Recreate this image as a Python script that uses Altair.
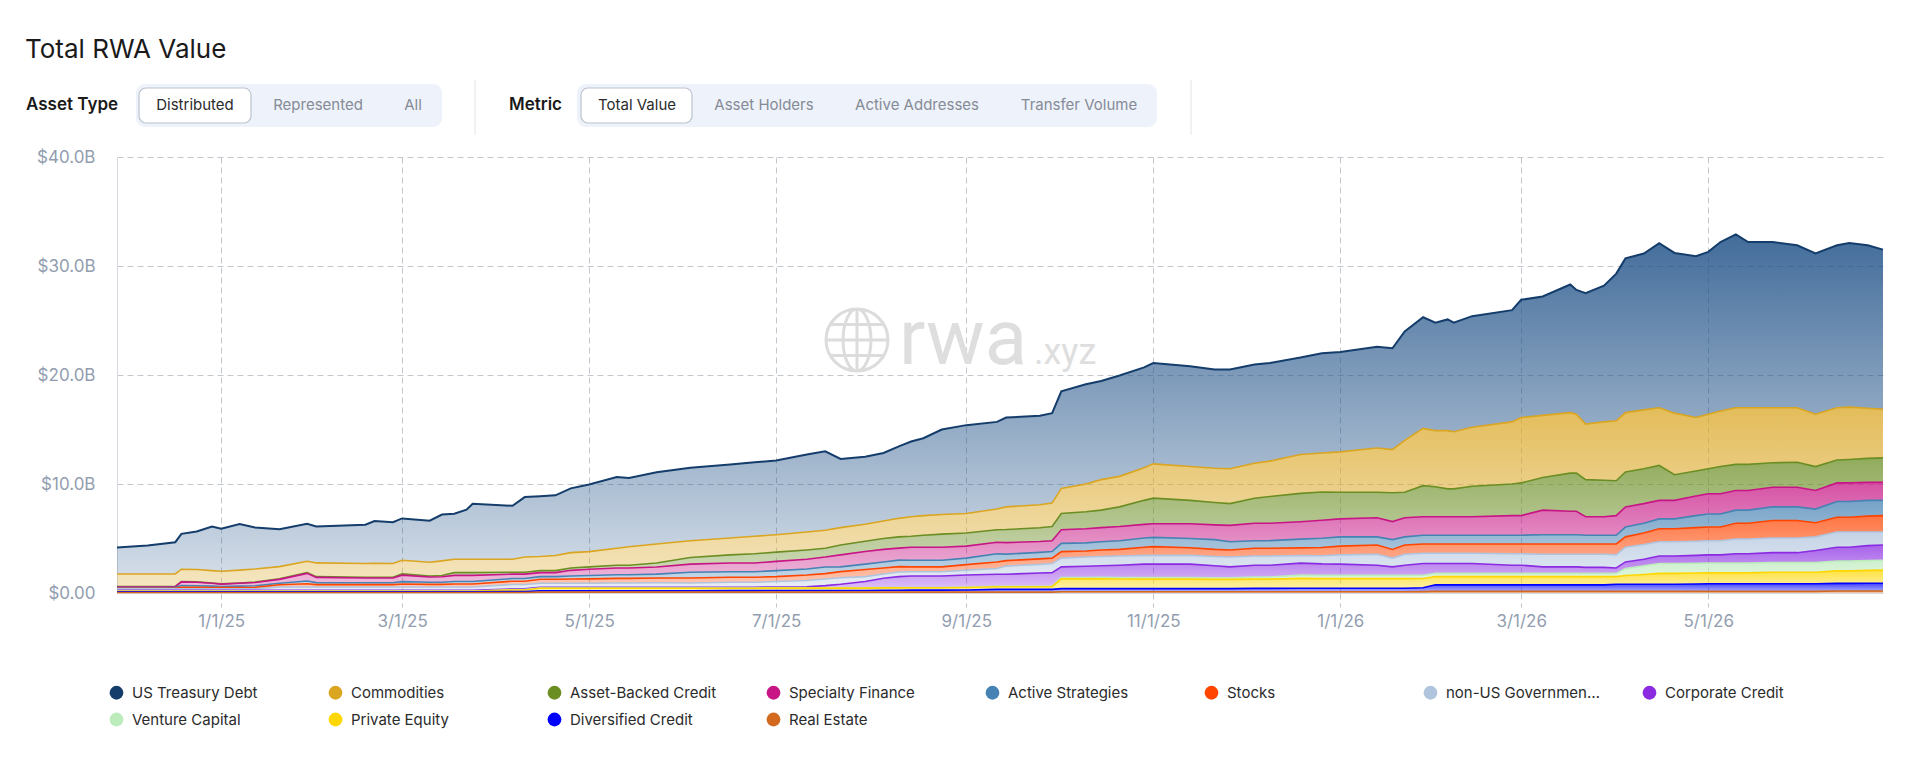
import altair as alt
import pandas as pd

# ---------------------------------------------------------------- data (USD billions)
dates = [
    "2024-11-28", "2024-12-08", "2024-12-17", "2024-12-19", "2024-12-24", "2024-12-29", "2025-01-01", "2025-01-07", "2025-01-12", "2025-01-20",
    "2025-01-29", "2025-02-01", "2025-02-17", "2025-02-20", "2025-02-26", "2025-03-01", "2025-03-10", "2025-03-14", "2025-03-18", "2025-03-22",
    "2025-03-24", "2025-04-06", "2025-04-10", "2025-04-15", "2025-04-20", "2025-04-25", "2025-05-01", "2025-05-10", "2025-05-14", "2025-05-23",
    "2025-06-03", "2025-06-16", "2025-06-24", "2025-07-01", "2025-07-11", "2025-07-17", "2025-07-22", "2025-07-30", "2025-08-05", "2025-08-10",
    "2025-08-14", "2025-08-18", "2025-08-24", "2025-09-01", "2025-09-11", "2025-09-14", "2025-09-25", "2025-09-29", "2025-10-02", "2025-10-10",
    "2025-10-15", "2025-10-21", "2025-10-29", "2025-11-01", "2025-11-13", "2025-11-21", "2025-11-26", "2025-12-04", "2025-12-09", "2025-12-19",
    "2025-12-26", "2026-01-01", "2026-01-13", "2026-01-18", "2026-01-22", "2026-01-28", "2026-02-01", "2026-02-05", "2026-02-07", "2026-02-13",
    "2026-02-26", "2026-03-01", "2026-03-08", "2026-03-17", "2026-03-19", "2026-03-22", "2026-03-28", "2026-04-01", "2026-04-04", "2026-04-10",
    "2026-04-15", "2026-04-20", "2026-04-27", "2026-05-01", "2026-05-05", "2026-05-10", "2026-05-14", "2026-05-22", "2026-05-30", "2026-06-05",
    "2026-06-12", "2026-06-16", "2026-06-22", "2026-06-27",
]

us_treasury_debt = [
    2.42, 2.60, 2.91, 3.25, 3.49, 4.05, 3.89, 4.22, 3.80, 3.44,
    3.44, 3.34, 3.56, 3.88, 3.80, 3.84, 3.81, 4.25, 4.17, 4.54,
    5.09, 4.90, 5.50, 5.52, 5.52, 5.90, 6.15, 6.55, 6.30, 6.57,
    6.70, 6.75, 6.80, 6.80, 7.10, 7.25, 6.30, 6.20, 6.25, 6.60,
    6.90, 7.10, 7.80, 8.10, 8.00, 8.20, 8.16, 8.25, 8.90, 9.15,
    9.05, 9.26, 9.20, 9.25, 9.20, 9.05, 9.10, 9.07, 9.00, 8.90,
    9.15, 9.15, 9.30, 9.30, 10.00, 10.20, 9.90, 10.20, 10.00, 10.20,
    10.25, 10.80, 10.90, 11.75, 11.40, 12.00, 12.50, 13.50, 14.15, 14.35,
    15.10, 14.70, 14.80, 14.90, 15.50, 15.90, 15.20, 15.20, 14.90, 14.75,
    14.90, 15.05, 14.95, 14.65,
]
commodities = [
    1.15, 1.15, 1.15, 1.13, 1.13, 1.13, 1.16, 1.18, 1.20, 1.12,
    1.04, 1.26, 1.25, 1.27, 1.25, 1.25, 1.26, 1.35, 1.23, 1.23,
    1.23, 1.20, 1.40, 1.30, 1.39, 1.40, 1.40, 1.55, 1.70, 1.75,
    1.55, 1.55, 1.60, 1.60, 1.65, 1.65, 1.60, 1.55, 1.60, 1.70,
    1.80, 1.80, 1.80, 1.80, 1.90, 2.08, 2.12, 2.15, 2.30, 2.55,
    2.80, 2.80, 3.00, 3.15, 3.10, 3.15, 3.20, 3.20, 3.25, 3.56,
    3.58, 3.70, 4.05, 3.95, 4.75, 5.25, 5.15, 5.35, 5.25, 5.40,
    5.70, 6.00, 5.70, 5.55, 5.40, 5.10, 5.35, 5.50, 5.45, 5.40,
    5.30, 5.65, 4.90, 5.00, 5.10, 5.20, 5.20, 5.05, 5.00, 4.80,
    4.80, 4.80, 4.60, 4.45,
]
asset_backed_credit = [
    0.02, 0.02, 0.02, 0.03, 0.03, 0.03, 0.03, 0.03, 0.04, 0.05,
    0.07, 0.07, 0.07, 0.07, 0.07, 0.11, 0.09, 0.11, 0.25, 0.25,
    0.25, 0.17, 0.17, 0.18, 0.18, 0.22, 0.22, 0.26, 0.26, 0.36,
    0.60, 0.75, 0.85, 0.85, 0.85, 0.80, 0.90, 0.95, 1.00, 1.03,
    1.00, 1.10, 1.20, 1.20, 1.15, 1.20, 1.25, 1.30, 1.50, 1.55,
    1.60, 1.80, 2.20, 2.35, 2.15, 2.05, 2.00, 2.30, 2.45, 2.60,
    2.60, 2.45, 2.35, 2.65, 2.35, 2.85, 2.75, 2.55, 2.55, 2.80,
    2.90, 3.00, 3.00, 3.50, 3.50, 3.40, 3.35, 3.20, 3.20, 3.20,
    3.20, 2.35, 2.30, 2.30, 2.50, 2.40, 2.40, 2.25, 2.30, 2.20,
    2.10, 2.15, 2.20, 2.25,
]
specialty_finance = [
    0.08, 0.08, 0.08, 0.34, 0.32, 0.26, 0.21, 0.26, 0.30, 0.35,
    0.70, 0.48, 0.44, 0.44, 0.44, 0.60, 0.48, 0.50, 0.57, 0.57,
    0.57, 0.40, 0.40, 0.37, 0.37, 0.52, 0.58, 0.62, 0.62, 0.66,
    0.75, 0.80, 0.80, 0.85, 0.90, 0.92, 1.10, 1.15, 1.15, 1.10,
    1.20, 1.20, 1.20, 1.10, 1.05, 1.05, 1.00, 1.00, 1.25, 1.30,
    1.30, 1.30, 1.25, 1.25, 1.35, 1.35, 1.50, 1.60, 1.60, 1.60,
    1.65, 1.65, 1.75, 1.65, 1.75, 1.70, 1.70, 1.70, 1.70, 1.70,
    1.80, 1.80, 2.25, 2.15, 2.15, 1.70, 1.70, 1.80, 1.85, 1.80,
    1.70, 1.70, 1.80, 1.85, 1.85, 1.80, 1.80, 1.80, 1.80, 1.70,
    1.70, 1.70, 1.65, 1.65,
]
active_strategies = [
    0.06, 0.06, 0.06, 0.15, 0.14, 0.12, 0.10, 0.12, 0.14, 0.15,
    0.25, 0.18, 0.17, 0.17, 0.17, 0.22, 0.20, 0.20, 0.23, 0.23,
    0.23, 0.25, 0.25, 0.24, 0.24, 0.28, 0.30, 0.33, 0.33, 0.35,
    0.52, 0.50, 0.50, 0.55, 0.55, 0.60, 0.44, 0.50, 0.55, 0.60,
    0.60, 0.60, 0.60, 0.60, 0.75, 0.60, 0.60, 0.60, 0.75, 0.75,
    0.75, 0.80, 0.85, 0.85, 0.85, 0.90, 0.75, 0.70, 0.70, 0.80,
    0.85, 0.85, 0.75, 0.90, 0.75, 0.80, 0.80, 0.80, 0.80, 0.80,
    0.80, 0.80, 0.85, 0.85, 0.85, 0.80, 0.80, 0.80, 0.90, 0.90,
    0.90, 0.90, 1.10, 1.20, 1.20, 1.20, 1.20, 1.25, 1.25, 1.25,
    1.45, 1.45, 1.45, 1.40,
]
stocks = [
    0.06, 0.06, 0.06, 0.15, 0.15, 0.13, 0.12, 0.13, 0.14, 0.20,
    0.30, 0.22, 0.22, 0.22, 0.22, 0.27, 0.24, 0.24, 0.27, 0.27,
    0.27, 0.30, 0.30, 0.36, 0.36, 0.38, 0.40, 0.42, 0.42, 0.44,
    0.46, 0.47, 0.47, 0.45, 0.50, 0.50, 0.56, 0.65, 0.55, 0.50,
    0.45, 0.45, 0.45, 0.50, 0.60, 0.50, 0.50, 0.50, 0.60, 0.55,
    0.60, 0.60, 0.75, 0.80, 0.70, 0.65, 0.65, 0.70, 0.70, 0.70,
    0.75, 0.80, 0.85, 0.80, 0.85, 0.85, 0.85, 0.85, 0.85, 0.85,
    0.90, 0.90, 0.95, 0.95, 0.95, 0.95, 0.95, 1.00, 0.95, 1.05,
    1.20, 1.20, 1.25, 1.25, 1.25, 1.45, 1.45, 1.60, 1.60, 1.30,
    1.35, 1.35, 1.45, 1.50,
]
non_us_government_debt = [
    0.13, 0.13, 0.13, 0.13, 0.13, 0.13, 0.13, 0.13, 0.13, 0.30,
    0.30, 0.30, 0.30, 0.30, 0.30, 0.30, 0.30, 0.30, 0.30, 0.30,
    0.30, 0.40, 0.40, 0.38, 0.38, 0.38, 0.38, 0.40, 0.40, 0.42,
    0.40, 0.45, 0.45, 0.50, 0.57, 0.60, 0.60, 0.45, 0.40, 0.42,
    0.39, 0.39, 0.39, 0.45, 0.53, 0.75, 0.80, 0.83, 0.80, 0.85,
    0.85, 0.85, 0.80, 0.80, 0.80, 0.85, 0.90, 0.85, 0.85, 0.70,
    0.75, 0.85, 1.00, 0.80, 1.00, 0.95, 0.95, 0.95, 0.95, 0.95,
    1.05, 1.05, 1.15, 1.15, 1.15, 1.20, 1.20, 1.20, 1.35, 1.35,
    1.30, 1.30, 1.30, 1.30, 1.30, 1.35, 1.35, 1.35, 1.35, 1.25,
    1.40, 1.40, 1.25, 1.20,
]
corporate_credit = [
    0.07, 0.07, 0.07, 0.07, 0.07, 0.07, 0.07, 0.07, 0.07, 0.07,
    0.07, 0.07, 0.07, 0.07, 0.07, 0.07, 0.07, 0.07, 0.07, 0.07,
    0.07, 0.07, 0.07, 0.07, 0.07, 0.07, 0.07, 0.07, 0.07, 0.07,
    0.07, 0.07, 0.07, 0.07, 0.10, 0.20, 0.32, 0.57, 0.85, 1.00,
    1.05, 1.05, 1.05, 1.12, 1.11, 1.11, 1.22, 1.26, 0.98, 1.03,
    1.07, 1.13, 1.23, 1.23, 1.23, 1.10, 1.00, 1.08, 1.08, 1.10,
    1.05, 1.03, 0.93, 0.78, 0.93, 1.07, 0.90, 0.90, 0.90, 0.90,
    0.75, 0.75, 0.60, 0.60, 0.60, 0.55, 0.55, 0.50, 0.60, 0.60,
    0.70, 0.70, 0.72, 0.75, 0.75, 0.85, 0.85, 0.90, 0.90, 1.10,
    1.27, 1.27, 1.37, 1.40,
]
venture_capital = [
    0.03, 0.03, 0.03, 0.03, 0.03, 0.03, 0.03, 0.03, 0.03, 0.03,
    0.03, 0.03, 0.03, 0.03, 0.03, 0.03, 0.03, 0.03, 0.03, 0.03,
    0.03, 0.03, 0.03, 0.02, 0.02, 0.02, 0.02, 0.02, 0.02, 0.02,
    0.02, 0.02, 0.02, 0.03, 0.03, 0.03, 0.03, 0.03, 0.03, 0.03,
    0.03, 0.03, 0.03, 0.03, 0.03, 0.03, 0.03, 0.03, 0.12, 0.12,
    0.13, 0.14, 0.15, 0.15, 0.15, 0.15, 0.15, 0.20, 0.20, 0.30,
    0.30, 0.30, 0.30, 0.30, 0.30, 0.30, 0.30, 0.30, 0.30, 0.30,
    0.30, 0.30, 0.30, 0.30, 0.30, 0.30, 0.30, 0.30, 0.65, 0.80,
    0.90, 0.90, 0.90, 0.90, 0.90, 0.90, 0.90, 0.90, 0.90, 0.90,
    0.90, 0.90, 0.90, 0.90,
]
private_equity = [
    0.05, 0.05, 0.05, 0.05, 0.05, 0.05, 0.05, 0.05, 0.05, 0.05,
    0.05, 0.05, 0.05, 0.05, 0.05, 0.05, 0.05, 0.05, 0.05, 0.05,
    0.05, 0.15, 0.15, 0.23, 0.23, 0.23, 0.23, 0.23, 0.23, 0.23,
    0.22, 0.22, 0.22, 0.22, 0.22, 0.22, 0.22, 0.22, 0.22, 0.22,
    0.22, 0.22, 0.22, 0.22, 0.25, 0.25, 0.25, 0.25, 0.90, 0.90,
    0.90, 0.88, 0.87, 0.87, 0.87, 0.85, 0.85, 0.85, 0.85, 0.90,
    0.88, 0.88, 0.88, 0.88, 0.88, 0.85, 0.75, 0.75, 0.75, 0.75,
    0.75, 0.75, 0.75, 0.75, 0.75, 0.75, 0.75, 0.70, 0.80, 0.90,
    1.00, 1.00, 1.00, 1.00, 1.00, 1.00, 1.00, 1.05, 1.05, 1.05,
    1.15, 1.15, 1.18, 1.20,
]
diversified_credit = [
    0.05, 0.05, 0.05, 0.05, 0.05, 0.05, 0.05, 0.05, 0.05, 0.05,
    0.05, 0.05, 0.05, 0.05, 0.05, 0.05, 0.05, 0.05, 0.05, 0.05,
    0.05, 0.08, 0.08, 0.12, 0.12, 0.12, 0.12, 0.12, 0.12, 0.12,
    0.13, 0.14, 0.14, 0.15, 0.15, 0.15, 0.15, 0.15, 0.17, 0.17,
    0.18, 0.18, 0.18, 0.20, 0.25, 0.25, 0.25, 0.25, 0.28, 0.28,
    0.28, 0.28, 0.28, 0.28, 0.28, 0.28, 0.28, 0.30, 0.30, 0.32,
    0.32, 0.32, 0.32, 0.32, 0.32, 0.35, 0.60, 0.60, 0.60, 0.60,
    0.60, 0.60, 0.60, 0.60, 0.60, 0.60, 0.60, 0.65, 0.65, 0.65,
    0.65, 0.65, 0.68, 0.70, 0.70, 0.70, 0.70, 0.70, 0.70, 0.70,
    0.70, 0.70, 0.72, 0.72,
]
real_estate = [
    0.05, 0.05, 0.05, 0.05, 0.05, 0.05, 0.05, 0.05, 0.05, 0.05,
    0.05, 0.05, 0.05, 0.05, 0.05, 0.05, 0.05, 0.05, 0.05, 0.05,
    0.05, 0.05, 0.05, 0.08, 0.08, 0.08, 0.08, 0.08, 0.08, 0.08,
    0.08, 0.08, 0.08, 0.08, 0.08, 0.08, 0.08, 0.08, 0.08, 0.08,
    0.08, 0.08, 0.08, 0.08, 0.08, 0.08, 0.08, 0.08, 0.12, 0.12,
    0.12, 0.12, 0.12, 0.12, 0.12, 0.12, 0.12, 0.12, 0.12, 0.12,
    0.12, 0.12, 0.12, 0.12, 0.12, 0.13, 0.15, 0.15, 0.15, 0.15,
    0.15, 0.15, 0.15, 0.15, 0.15, 0.15, 0.15, 0.15, 0.15, 0.15,
    0.15, 0.15, 0.15, 0.15, 0.15, 0.15, 0.15, 0.15, 0.15, 0.15,
    0.18, 0.18, 0.18, 0.18,
]

# legend order (top of the stack first)
series_names = [
    "US Treasury Debt", "Commodities", "Asset-Backed Credit", "Specialty Finance",
    "Active Strategies", "Stocks", "non-US Government Debt", "Corporate Credit",
    "Venture Capital", "Private Equity", "Diversified Credit", "Real Estate",
]
series_values = [
    us_treasury_debt, commodities, asset_backed_credit, specialty_finance,
    active_strategies, stocks, non_us_government_debt, corporate_credit,
    venture_capital, private_equity, diversified_credit, real_estate,
]
series_colors = [
    "#143d6b", "#daa520", "#6b8e23", "#c71585",
    "#4682b4", "#ff4500", "#b0c4de", "#8a2be2",
    "#bcebbc", "#ffd700", "#0000ff", "#d2691e",
]
# band fills (the treasury band uses a brighter blue than its outline)
fill_colors = [
    "#1e5087", "#daa520", "#6b8e23", "#c71585",
    "#4682b4", "#ff4500", "#b0c4de", "#8a2be2",
    "#bcebbc", "#ffd700", "#0000ff", "#d2691e",
]

y_ticks = [0, 10, 20, 30, 40]

for vals in series_values:
    assert len(vals) == len(dates)

rows = []
n_series = len(series_names)
for i, (name, vals) in enumerate(zip(series_names, series_values)):
    for d, v in zip(dates, vals):
        rows.append({"date": d + "T00:00:00", "series": name, "value": v,
                     "rank": n_series - 1 - i})
df = pd.DataFrame(rows)

# ---------------------------------------------------------------- layout
OX, OY = 117, 157          # plot origin on the page
W, H = 1766, 436           # plot size
FONT = "Inter"
AXIS_GREY = "#929daf"
GRID = "#c3c8cf"


def px(x):
    return alt.value(x - OX)


def py(y):
    return alt.value(y - OY)


def hex_rgba(h, a):
    h = h.lstrip("#")
    r, g, b = int(h[0:2], 16), int(h[2:4], 16), int(h[4:6], 16)
    return f"rgba({r},{g},{b},{a})"


one_row = alt.Data(values=[{"k": 1}])

x_enc = alt.X(
    "date:T",
    title=None,
    scale=alt.Scale(domain=[alt.DateTime(year=2024, month=11, date=28),
                            alt.DateTime(year=2026, month=6, date=27)], nice=False),
    axis=alt.Axis(
        values=[alt.DateTime(year=2025, month=1, date=1), alt.DateTime(year=2025, month=3, date=1),
                alt.DateTime(year=2025, month=5, date=1), alt.DateTime(year=2025, month=7, date=1),
                alt.DateTime(year=2025, month=9, date=1), alt.DateTime(year=2025, month=11, date=1),
                alt.DateTime(year=2026, month=1, date=1), alt.DateTime(year=2026, month=3, date=1),
                alt.DateTime(year=2026, month=5, date=1)],
        format="%-m/%-d/%y",
        grid=True, gridDash=[6, 4], gridColor=GRID, gridWidth=1,
        ticks=True, tickSize=14, tickDash=[6, 4], tickColor=GRID,
        domain=True, domainColor="#d6dae0",
        labelFont=FONT, labelFontSize=17, labelColor=AXIS_GREY, labelPadding=6,
    ),
)
y_enc_kwargs = dict(
    title=None,
    scale=alt.Scale(domain=[0, 40], nice=False),
    axis=alt.Axis(
        values=y_ticks,
        labelExpr="datum.value == 0 ? '$0.00' : '$' + format(datum.value, '.1f') + 'B'",
        grid=True, gridDash=[6, 4], gridColor=GRID, gridWidth=1,
        ticks=False, domain=True, domainColor="#d6dae0",
        labelFont=FONT, labelFontSize=17, labelColor=AXIS_GREY, labelPadding=22,
    ),
)

stacked = alt.Chart(df).transform_stack(
    stack="value", as_=["lo", "hi"], groupby=["date"],
    sort=[alt.SortField("rank", order="ascending")],
)

layers = []

# watermark
globe_path = ("M-1,0A1,1 0 1,0 1,0A1,1 0 1,0 -1,0Z"
              "M0,-1A0.45,1 0 1,0 0,1A0.45,1 0 1,0 0,-1Z"
              "M0,-1L0,1M-1,0L1,0M-0.87,-0.5L0.87,-0.5M-0.87,0.5L0.87,0.5")
layers.append(alt.Chart(one_row).mark_point(
    shape=globe_path, size=3844, filled=False, strokeWidth=3, color="#dcdcdc", opacity=1
).encode(x=px(857), y=py(340)))
layers.append(alt.Chart(one_row).mark_text(
    text="rwa", font="Roboto", fontSize=78, color="#dedede", align="left", baseline="alphabetic"
).encode(x=px(899), y=py(364)))
layers.append(alt.Chart(one_row).mark_text(
    text=".xyz", font="Roboto", fontSize=36, color="#dedede", align="left", baseline="alphabetic"
).encode(x=px(1034), y=py(364)))

# stacked areas with vertical gradient fills
for i, (name, col) in enumerate(zip(series_names, fill_colors)):
    top_a, bot_a = (0.84, 0.2) if i == 0 else (0.74, 0.28)
    grad = alt.LinearGradient(
        gradient="linear", x1=0, x2=0, y1=0, y2=1,
        stops=[alt.GradientStop(color=hex_rgba(col, top_a), offset=0),
               alt.GradientStop(color=hex_rgba(col, bot_a), offset=1)],
    )
    layers.append(
        stacked.transform_filter(alt.datum.series == name)
        .mark_area(fill=grad, strokeWidth=0)
        .encode(x=x_enc, y=alt.Y("hi:Q", **y_enc_kwargs), y2="lo:Q")
    )

# boundary lines on top of each band
for i, (name, col) in enumerate(zip(series_names, series_colors)):
    layers.append(
        stacked.transform_filter(alt.datum.series == name)
        .mark_line(color=col, strokeWidth=2 if i == 0 else 1.6)
        .encode(x=x_enc, y=alt.Y("hi:Q", **y_enc_kwargs))
    )

# legend carrier
legend_data = alt.Data(values=[{"series": n} for n in series_names])
layers.append(
    alt.Chart(legend_data).mark_circle(opacity=0).encode(
        color=alt.Color(
            "series:N",
            scale=alt.Scale(domain=series_names, range=series_colors),
            legend=alt.Legend(
                orient="none", legendX=-8, legendY=528, direction="horizontal",
                columns=8, symbolType="circle", symbolSize=190, symbolStrokeWidth=0,
                symbolOpacity=1, labelFont=FONT, labelFontSize=15, labelColor="#2b2b2b",
                labelLimit=158, labelOffset=8, columnPadding=42, rowPadding=11,
                gridAlign="all", title=None, padding=0,
            ),
        )
    )
)

# header: title, selectors
def text_at(t, x, y, size, color="#1a1a1a", weight=400, align="left", baseline="middle"):
    return alt.Chart(one_row).mark_text(
        text=t, font=FONT, fontSize=size, fontWeight=weight, color=color,
        align=align, baseline=baseline,
    ).encode(x=px(x), y=py(y))


def rect_at(x1, x2, y1, y2, fill, stroke=None, radius=8):
    kw = dict(fill=fill, cornerRadius=radius)
    if stroke:
        kw.update(stroke=stroke, strokeWidth=1.2)
    return alt.Chart(one_row).mark_rect(**kw).encode(x=px(x1), x2=px(x2), y=py(y1), y2=py(y2))


def vrule_at(x, y1, y2):
    return alt.Chart(one_row).mark_rule(color="#e2e4e8", strokeWidth=1).encode(
        x=px(x), y=py(y1), y2=py(y2))


layers += [
    text_at("Total RWA Value", 25, 58, 26, baseline="alphabetic"),
    text_at("Asset Type", 26, 105, 17, weight=600),
    rect_at(136, 442, 84, 127, "#eef2fa", radius=9),
    rect_at(139, 251, 88, 123, "#ffffff", stroke="#bcc3ce", radius=7),
    text_at("Distributed", 195, 105, 15, color="#2b2b2b", align="center"),
    text_at("Represented", 318, 105, 15, color="#858b97", align="center"),
    text_at("All", 413, 105, 15, color="#858b97", align="center"),
    vrule_at(475, 80, 135),
    text_at("Metric", 509, 105, 17, weight=600),
    rect_at(577, 1157, 84, 127, "#eef2fa", radius=9),
    rect_at(581, 692, 88, 123, "#ffffff", stroke="#bcc3ce", radius=7),
    text_at("Total Value", 637, 105, 15, color="#2b2b2b", align="center"),
    text_at("Asset Holders", 764, 105, 15, color="#858b97", align="center"),
    text_at("Active Addresses", 917, 105, 15, color="#858b97", align="center"),
    text_at("Transfer Volume", 1079, 105, 15, color="#858b97", align="center"),
    vrule_at(1191, 80, 135),
]

chart = alt.layer(*layers).properties(
    width=W, height=H,
    autosize=alt.AutoSizeParams(type="none"),
    padding={"left": OX, "top": OY, "right": 1920 - OX - W, "bottom": 180},
    background="white",
).configure_view(stroke=None)

chart.save("out.html", embed_options={"renderer": "svg", "actions": False})
